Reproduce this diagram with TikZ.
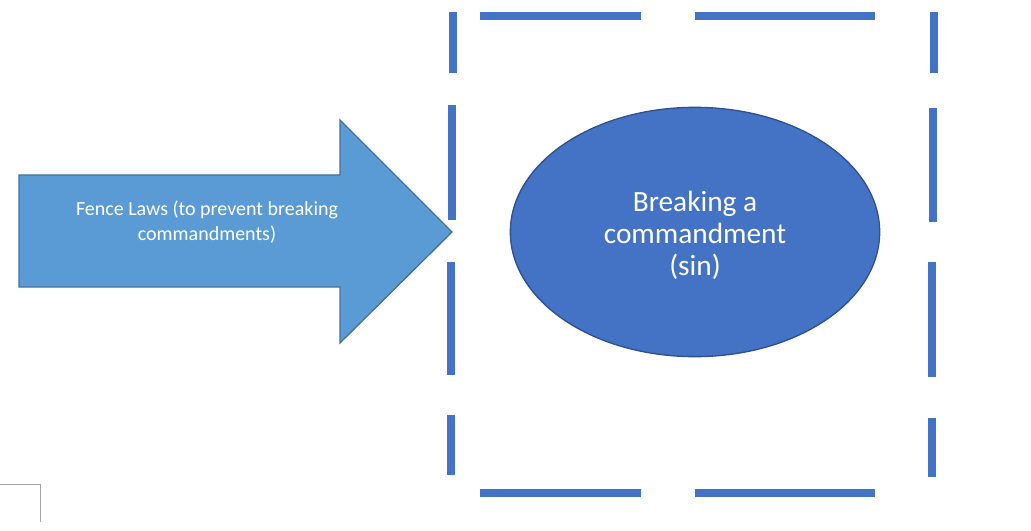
\documentclass[tikz,border=0pt]{standalone}
\usepackage{fontspec}
\usetikzlibrary{shapes.geometric}
\setmainfont{Carlito}
\definecolor{arrowfill}{HTML}{5B9BD5}
\definecolor{arrowline}{HTML}{41719C}
\definecolor{ellfill}{HTML}{4472C4}
\definecolor{ellline}{HTML}{2F528F}
\begin{document}
\begin{tikzpicture}[x=0.75pt,y=-0.75pt,
  framedash/.style={draw=ellfill,line width=6pt},
  lbl/.style={text=white,align=center}]
\useasboundingbox (0,0) rectangle (1031,531);
% corner mark
\draw[gray!70,line width=0.6pt] (0,484) -- (40,484) -- (40,522);
% arrow
\draw[fill=arrowfill,draw=arrowline,line width=1pt]
  (19,175) -- (340,175) -- (340,120) -- (452,232) -- (340,343) -- (340,287) -- (19,287) -- cycle;
\node[lbl,font=\fontsize{15}{19}\selectfont] (fence) at (207,222) {Fence Laws (to prevent breaking\\commandments)};
% ellipse
\node[ellipse,draw=ellline,fill=ellfill,line width=1pt,minimum width=277pt,minimum height=187pt,inner sep=0pt] (sin) at (695,232) {};
\node[lbl,font=\fontsize{22}{24}\selectfont] (sint) at (695,235) {Breaking a\\commandment\\(sin)};
% dashed frame
\draw[framedash] (480,16) -- (641,16);
\draw[framedash] (695,16) -- (875,16);
\draw[framedash] (480,493) -- (641,493);
\draw[framedash] (695,493) -- (875,493);
\draw[framedash] (453,12) -- (453,73);
\draw[framedash] (452,105) -- (452,220);
\draw[framedash] (451,262) -- (451,375);
\draw[framedash] (451,415) -- (451,475);
\draw[framedash] (934,12) -- (934,73);
\draw[framedash] (933,108) -- (933,222);
\draw[framedash] (932,262) -- (932,377);
\draw[framedash] (932,418) -- (932,477);
\end{tikzpicture}
\end{document}
